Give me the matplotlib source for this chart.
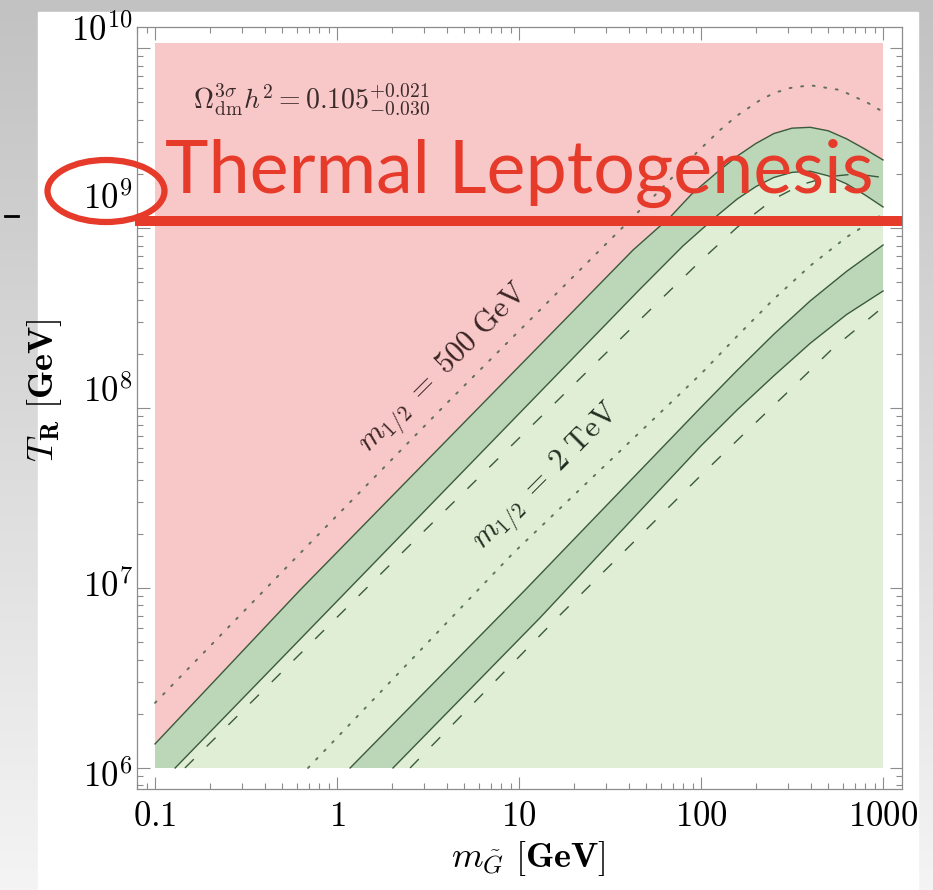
import matplotlib
matplotlib.use('Agg')
import matplotlib.pyplot as plt
import matplotlib.patches as patches
from matplotlib.lines import Line2D
from matplotlib.colors import LinearSegmentedColormap
from matplotlib.ticker import NullFormatter
from matplotlib.transforms import ScaledTranslation
import numpy as np

plt.rcParams['mathtext.fontset'] = 'cm'
plt.rcParams['font.family'] = ['DejaVu Serif']

# gravitino mass m_G [GeV] vs reheating temperature T_R [GeV]
# m_1/2 = 500 GeV
m_dot500 = [0.1, 0.627, 4.18, 26.8, 52.5, 95.1, 127, 158, 211, 251, 308, 397, 581, 828, 964]
T_dot500 = [2.3e6, 1.56e7, 1.11e8, 7.27e8, 1.43e9, 2.64e9, 3.5e9, 4.22e9, 5.14e9, 5.62e9,
            6.0e9, 6.22e9, 5.85e9, 4.95e9, 4.52e9]
m_up500 = [0.1, 0.627, 42.3, 67.6, 89.1, 126, 158, 200, 251, 316, 398, 501, 631, 794, 1000]
T_up500 = [1.36e6, 9.75e6, 7.55e8, 1.15e9, 1.55e9, 2.09e9, 2.51e9, 2.95e9, 3.35e9, 3.59e9,
           3.63e9, 3.47e9, 3.13e9, 2.75e9, 2.39e9]
m_lo500 = [0.129, 2.22, 46.2, 79.4, 100, 126, 158, 200, 251, 316, 398, 501, 631, 794, 1000]
T_lo500 = [1e6, 1.94e7, 4.58e8, 7.94e8, 9.77e8, 1.2e9, 1.45e9, 1.70e9, 1.91e9, 2.04e9,
           2.07e9, 1.95e9, 1.76e9, 1.53e9, 1.31e9]
m_dash500 = [0.146, 2.86, 59.6, 100, 158, 251, 355, 501, 708, 1000]
T_dash500 = [1e6, 1.97e7, 3.98e8, 6.61e8, 1.01e9, 1.45e9, 1.74e9, 1.93e9, 2.0e9, 1.91e9]

# m_1/2 = 2 TeV
m_dot2 = [0.693, 9.27, 100, 158, 251, 398, 631, 964]
T_dot2 = [1e6, 1.56e7, 1.55e8, 2.51e8, 4.03e8, 6.17e8, 8.91e8, 1.17e9]
m_up2 = [1.18, 10.8, 100, 158, 251, 398, 631, 1000]
T_up2 = [1e6, 9.75e6, 1.01e8, 1.62e8, 2.57e8, 3.94e8, 5.75e8, 8.05e8]
m_lo2 = [2.03, 13.0, 100, 158, 251, 398, 631, 1000]
T_lo2 = [1e6, 6.81e6, 6.17e7, 9.77e7, 1.51e8, 2.29e8, 3.31e8, 4.47e8]
m_dash2 = [2.52, 16.8, 103, 181, 308, 531, 702, 1000]
T_dash2 = [1e6, 7.08e6, 4.36e7, 7.55e7, 1.26e8, 2.15e8, 2.71e8, 3.64e8]

# plotted region and leptogenesis bound
M_MIN, M_MAX = 0.1, 1000
T_MIN, T_MAX = 1e6, 1.07e10

x_ticks = [0.1, 1, 10, 100, 1000]
x_ticklabels = ['$0.1$', '$1$', '$10$', '$100$', '$1000$']
y_ticks = [1e6, 1e7, 1e8, 1e9, 1e10]
y_ticklabels = ['$10^{6}$', '$10^{7}$', '$10^{8}$', '$10^{9}$', '$10^{10}$']
y_label_shift = [-5, 5, 20, 33, 21]   # px, labels sit above their ticks in the original

PINK = '#f8c7c7'
LIGHT = '#e1eed6'
DARK = '#bcd7b8'
LINE = '#3a5a3c'
RED = '#e63a2a'

W, H = 933, 890
fig = plt.figure(figsize=(W / 100, H / 100), dpi=100)

# slide background: grey gradient with a white page
bg = fig.add_axes([0, 0, 1, 1], zorder=-10)
bg.imshow(np.linspace(0, 1, 256)[:, None], aspect='auto', extent=[0, 1, 0, 1],
          cmap=LinearSegmentedColormap.from_list('bg', ['#c2c2c2', '#f4f4f4']))
bg.axis('off')
fig.add_artist(patches.Rectangle((38 / W, 0), (918 - 38) / W, (H - 12) / H,
                                 transform=fig.transFigure, color='white', zorder=-5))
fig.add_artist(Line2D([5 / W, 18 / W], [1 - 216 / H] * 2, color='k', lw=2))

ax = fig.add_axes([137 / W, 1 - 789 / H, (902 - 137) / W, (789 - 27) / H])
ax.set_xscale('log')
ax.set_yscale('log')
ax.set_xlim(0.0796, 1271)
ax.set_ylim(7.64e5, 1.31e10)

# regions
ax.fill([M_MIN, M_MAX, M_MAX, M_MIN], [T_MIN, T_MIN, T_MAX, T_MAX], color=PINK, lw=0)
ax.fill(m_up500 + [M_MAX, M_MIN], T_up500 + [T_MIN, T_MIN], color=LIGHT, lw=0)
ax.fill(m_up500 + m_lo500[::-1] + [M_MIN], T_up500 + T_lo500[::-1] + [T_MIN], color=DARK, lw=0)
ax.fill(m_up2 + m_lo2[::-1], T_up2 + T_lo2[::-1], color=DARK, lw=0)

# curves
for m, T in [(m_up500, T_up500), (m_lo500, T_lo500), (m_up2, T_up2), (m_lo2, T_lo2)]:
    ax.plot(m, T, color=LINE, lw=1.0)
for m, T in [(m_dash500, T_dash500), (m_dash2, T_dash2)]:
    ax.plot(m, T, color=LINE, lw=1.0, linestyle=(0, (9, 13)))
for m, T in [(m_dot500, T_dot500), (m_dot2, T_dot2)]:
    ax.plot(m, T, color=LINE, lw=1.4, linestyle=(0, (1, 5)), dash_capstyle='round', alpha=0.8)

ax.text(3.92, 1.63e8, r'$m_{1/2}\;=\;500\ \mathrm{GeV}$', rotation=45, ha='center', va='center',
        fontsize=22, color='#3a2424')
ax.text(14.4, 4.08e7, r'$m_{1/2}\;=\;2\ \mathrm{TeV}$', rotation=45, ha='center', va='center',
        fontsize=22, color='#1f2f20')
ax.text(0.073, 0.904, r'$\Omega^{3\sigma}_{\rm dm} h^2 = 0.105^{+0.021}_{-0.030}$',
        transform=ax.transAxes, va='center', ha='left', fontsize=20, color='#3a2a2a')

# axes styling
ax.set_xticks(x_ticks)
ax.set_xticklabels(x_ticklabels, fontsize=25)
ax.set_yticks(y_ticks)
ax.set_yticklabels(y_ticklabels, fontsize=25)
ax.xaxis.set_minor_formatter(NullFormatter())
ax.yaxis.set_minor_formatter(NullFormatter())
ax.tick_params(which='both', direction='in', top=True, right=True, color='#8c8c8c', width=0.8)
ax.tick_params(which='major', length=9)
ax.tick_params(which='minor', length=4.5)
ax.tick_params(axis='x', pad=7)
ax.tick_params(axis='y', pad=3)
for s in ax.spines.values():
    s.set_color('#8c8c8c')
    s.set_linewidth(0.9)
for lab, dy in zip(ax.get_yticklabels(), y_label_shift):
    lab.set_transform(lab.get_transform() + ScaledTranslation(0, dy / 100, fig.dpi_scale_trans))

ax.set_xlabel(r'$m_{\tilde{G}}\ \mathbf{[GeV]}$', fontsize=26, va='center')
ax.xaxis.set_label_coords((528 - 137) / 765, (789 - 858) / 762)
ax.set_ylabel(r'$T_{\mathbf{R}}\ \mathbf{[GeV]}$', fontsize=26, va='center')
ax.yaxis.set_label_coords((45 - 137) / 765, (789 - 390) / 762)

# red annotation from the slide
fig.text(165 / W, 1 - 193 / H, 'Thermal Leptogenesis', family='Lato', fontsize=53,
         color=RED, va='baseline', ha='left')
fig.add_artist(Line2D([140 / W, 897 / W], [1 - 221 / H] * 2, color=RED, lw=7.2))
fig.add_artist(patches.Ellipse((106 / W, 1 - 191 / H), 117 / W, 62 / H, transform=fig.transFigure,
                               fill=False, edgecolor=RED, lw=4.5))

fig.savefig('out.png', dpi=100)
